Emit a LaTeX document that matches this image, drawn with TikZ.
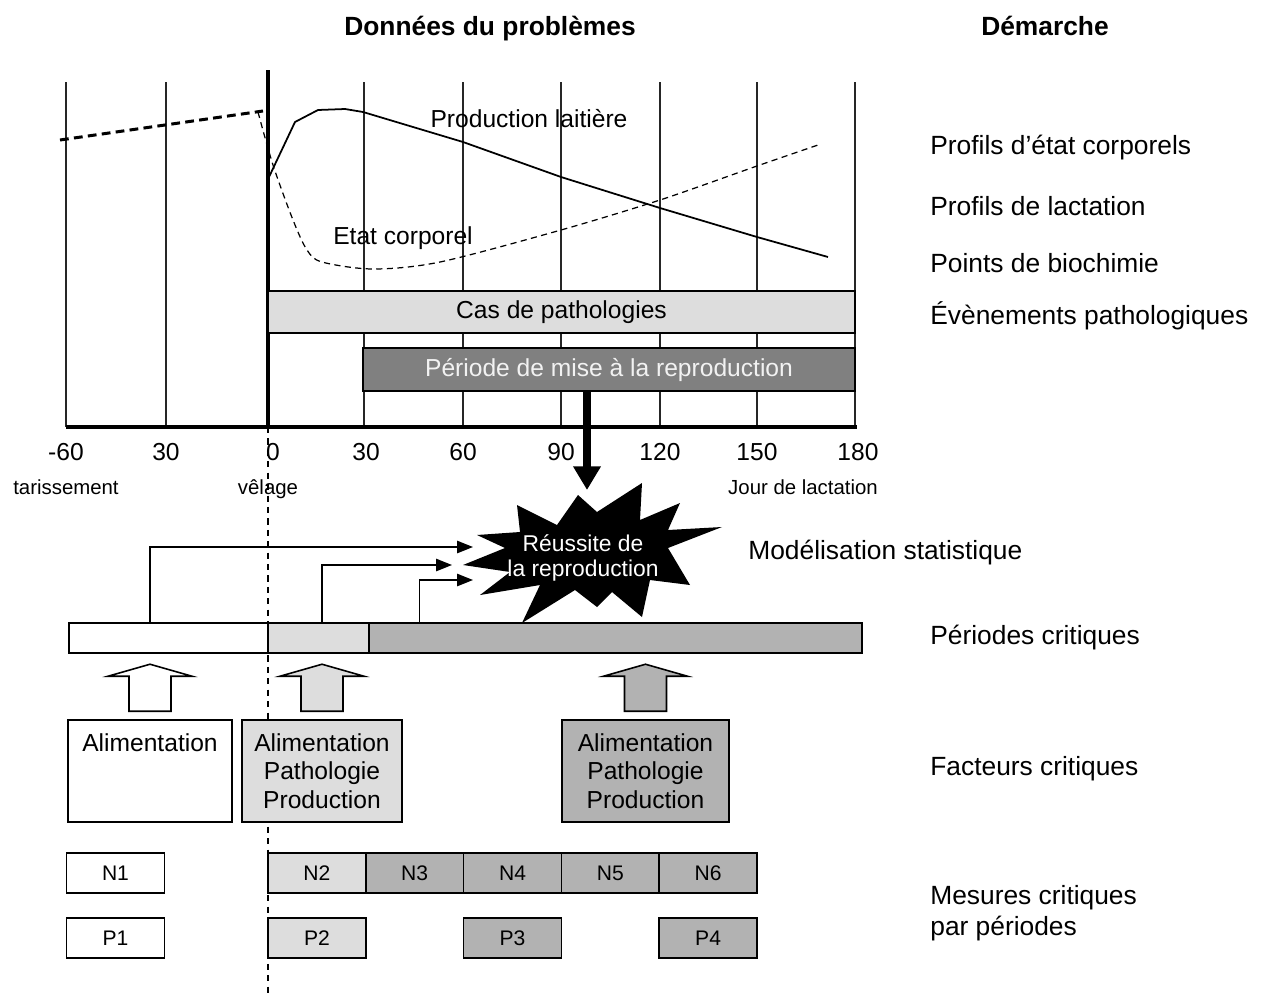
\documentclass[tikz,border=0pt]{standalone}
\usepackage{fontspec}
\setmainfont{Liberation Sans}
\usetikzlibrary{arrows.meta, positioning, calc}
\definecolor{pathogray}{RGB}{221,221,221}
\definecolor{reprogray}{RGB}{128,128,128}
\definecolor{critgray}{RGB}{178,178,178}

\begin{document}
\begin{tikzpicture}[x=0.02cm, y=-0.02cm,
    grid/.style={line width=0.8pt, black!85},
    bar/.style={draw, line width=0.9pt, inner sep=0pt, align=center,
                font=\fontsize{14}{16.2}\selectfont},
    factor/.style={bar, minimum height=2.04cm},
    meas/.style={bar, minimum width=1.956cm, minimum height=0.8cm,
                 font=\fontsize{12}{14}\selectfont},
    ticklab/.style={font=\fontsize{14}{16}\selectfont},
    daylab/.style={anchor=base, font=\fontsize{11.6}{14}\selectfont},
    curvelab/.style={font=\fontsize{14}{16}\selectfont},
    steplab/.style={anchor=west, inner sep=0pt, align=left, font=\fontsize{15}{17.6}\selectfont},
    title/.style={anchor=base, font=\fontsize{15}{18}\selectfont\bfseries},
    conn/.style={line width=0.8pt, -{Triangle[length=9pt,width=7pt]}}
  ]
  \useasboundingbox (0,0) rectangle (1261,998);

  % titles
  \node[title] (tdata) at (490,35) {Données du problèmes};
  \node[title] (tstep) at (1045,35) {Démarche};

  % lactation chart
  \foreach \x in {66,166,364,463,561,660,757,855}
    \draw[grid] (\x,82) -- (\x,427);
  \draw[line width=2.5pt] (268,70) -- (268,427);
  \draw[line width=2.2pt] (66,427) -- (857,427);
  \draw[black, dash pattern=on 3.5pt off 3pt, line width=0.8pt] (268,427) -- (268,998);

  \draw[line width=1.7pt, dash pattern=on 5pt off 3pt] (60,140) -- (263,111);
  \draw[line width=0.7pt, dash pattern=on 3.5pt off 2.5pt]
    plot[smooth, tension=0.5] coordinates {(258,112) (273,165) (293,220) (307,250)
      (322,262) (373,269) (440,262) (561,230) (660,200) (757,166) (818,145)};
  \draw[line width=1pt] (269,177) -- (295,122) -- (318,110) -- (345,109) -- (363,112)
    -- (463,142) -- (561,177) -- (660,208) -- (757,237) -- (828,257);

  \node[curvelab] (prodlab) at (529,119) {Production laitière};
  \node[curvelab] (etatlab) at (403,238) {Etat corporel};

  \node[bar, fill=pathogray, minimum width=11.74cm, minimum height=0.84cm]
    (patho) at (561.5,312) {Cas de pathologies};
  \node[bar, fill=reprogray, text=black!5, minimum width=9.84cm, minimum height=0.86cm]
    (repro) at (609,369.5) {Période de mise à la reproduction};

  \foreach \x/\t [count=\i] in {66/-60,166/30,273/0,366/30,463/60,561/90,660/120,757/150,858/180}
    \node[ticklab] (tk\i) at (\x,452) {\t};
  \node[daylab] (tariss) at (66,494) {tarissement};
  \node[daylab] (velage) at (268,494) {vêlage};
  \node[daylab] (jour) at (803,494) {Jour de lactation};

  % success of reproduction
  \coordinate (burstTop) at (587,490);
  \draw[line width=4.5pt, -{Triangle[width=15pt,length=13.5pt]}] (repro.south -| burstTop) -- (burstTop);
  \fill[black] (517,505) -- (557,525) -- (578,495) -- (597,512) -- (642,483) -- (640,520)
    -- (680,503) -- (668,530) -- (722,527) -- (668,548) -- (690,585) -- (650,580)
    -- (642,617) -- (612,592) -- (597,607) -- (575,590) -- (522,623) -- (540,585)
    -- (480,595) -- (510,572) -- (463,565) -- (505,548) -- (477,535) -- (520,532) -- cycle;
  \node[text=white, align=center, font=\fontsize{13}{14.2}\selectfont] (burst) at (583,558)
    {Réussite de\\la reproduction};
  \coordinate (in1) at (473,547);
  \coordinate (in2) at (452,565);
  \coordinate (in3) at (473,580);

  % critical periods
  \node[bar, fill=white, minimum width=3.98cm, minimum height=0.6cm] (pera) at (168.5,638) {};
  \node[bar, fill=pathogray, minimum width=2.02cm, minimum height=0.6cm] (perb) at (318.5,638) {};
  \node[bar, fill=critgray, minimum width=9.86cm, minimum height=0.6cm] (perc) at (615.5,638) {};

  % critical factors
  \node[factor, fill=white, minimum width=3.28cm] (fa) at (150,771)
    {Alimentation\\\phantom{P}\\\phantom{P}};
  \node[factor, fill=pathogray, minimum width=3.2cm] (fb) at (322,771)
    {Alimentation\\Pathologie\\Production};
  \node[factor, fill=critgray, minimum width=3.34cm] (fc) at (645.5,771)
    {Alimentation\\Pathologie\\Production};

  \foreach \f/\c in {fa/white, fb/pathogray, fc/critgray}
    \draw[line width=0.9pt, fill=\c] ($(\f.north)+(-21,-8)$) -- ++(0,-35) -- ++(-21,0)
      -- ++(42,-12) -- ++(42,12) -- ++(-21,0) -- ++(0,35) -- cycle;

  \draw[conn] (pera.north -| fa.north) |- (in1);
  \draw[conn] (perb.north -| fb.north) |- (in2);
  \draw[conn] ([xshift=1.02cm]perc.north west) |- (in3);

  % critical measures
  \node[meas, fill=white] (n1) at (115.5,873) {N1};
  \node[meas, fill=pathogray] (n2) at (316.9,873) {N2};
  \node[meas, fill=critgray] (n3) at (414.7,873) {N3};
  \node[meas, fill=critgray] (n4) at (512.5,873) {N4};
  \node[meas, fill=critgray] (n5) at (610.3,873) {N5};
  \node[meas, fill=critgray] (n6) at (708.1,873) {N6};

  \node[meas, fill=white] (p1) at (115.5,938) {P1};
  \node[meas, fill=pathogray] (p2) at (n2 |- p1) {P2};
  \node[meas, fill=critgray] (p3) at (n4 |- p1) {P3};
  \node[meas, fill=critgray] (p4) at (n6 |- p1) {P4};

  % approach
  \node[steplab] (s1) at (930,148) {Profils d’état corporels};
  \node[steplab] (s2) at (930,206) {Profils de lactation};
  \node[steplab] (s3) at (930,263) {Points de biochimie};
  \node[steplab] (s4) at (930,316) {Évènements pathologiques};
  \node[steplab] (s5) at (748,553) {Modélisation statistique};
  \node[steplab] (s6) at (930,638) {Périodes critiques};
  \node[steplab] (s7) at (930,769) {Facteurs critiques};
  \node[steplab] (s8) at (930,913) {Mesures critiques\\par périodes};
\end{tikzpicture}
\end{document}
